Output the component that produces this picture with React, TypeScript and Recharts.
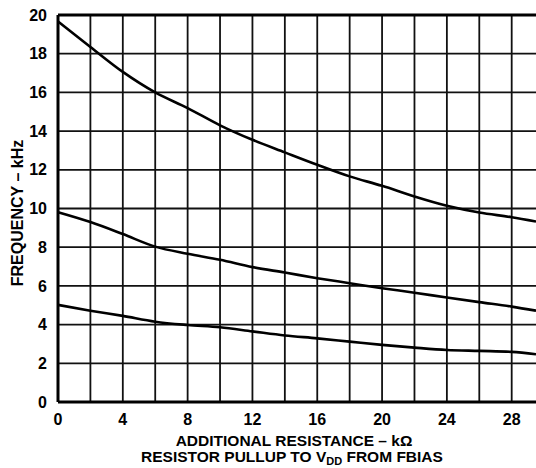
import React from 'react';
import { LineChart, Line, XAxis, YAxis, ReferenceLine } from 'recharts';

const resistance = [0, 2, 4, 6, 8, 10, 12, 14, 16, 18, 20, 22, 24, 26, 28, 29.5];
const upperFreq = [19.67, 18.35, 17.06, 16.0, 15.19, 14.3, 13.55, 12.9, 12.26, 11.66, 11.17, 10.62, 10.14, 9.79, 9.55, 9.33];
const middleFreq = [9.81, 9.3, 8.68, 8.03, 7.66, 7.35, 6.97, 6.69, 6.4, 6.14, 5.88, 5.65, 5.4, 5.16, 4.93, 4.72];
const lowerFreq = [5.02, 4.72, 4.45, 4.15, 3.98, 3.86, 3.65, 3.44, 3.29, 3.12, 2.95, 2.81, 2.69, 2.64, 2.59, 2.47];

const xTicks = [0, 4, 8, 12, 16, 20, 24, 28];
const yTicks = [0, 2, 4, 6, 8, 10, 12, 14, 16, 18, 20];
const xGrid = [2, 4, 6, 8, 10, 12, 14, 16, 18, 20, 22, 24, 26, 28];
const yGrid = [2, 4, 6, 8, 10, 12, 14, 16, 18];

const data = resistance.map((r, i) => ({
  r,
  upper: upperFreq[i],
  middle: middleFreq[i],
  lower: lowerFreq[i],
}));

const FONT = '"Liberation Sans", Arial, Helvetica, sans-serif';
const tickStyle = { fill: '#000', fontSize: 16, fontWeight: 700, fontFamily: FONT };

const XTitle = () => (
  <g fontFamily={FONT} fontWeight={700} fontSize={15.5} fill="#000" textAnchor="middle">
    <text x={294} y={446}>ADDITIONAL RESISTANCE – kΩ</text>
    <text x={292} y={462}>
      RESISTOR PULLUP TO V
      <tspan fontSize={11} dy={3}>DD</tspan>
      <tspan dy={-3}> FROM FBIAS</tspan>
    </text>
  </g>
);

const YTitle = () => (
  <text
    x={23}
    y={213}
    transform="rotate(-90 23 213)"
    textAnchor="middle"
    fontFamily={FONT}
    fontWeight={700}
    fontSize={16}
    fill="#000"
  >
    FREQUENCY – kHz
  </text>
);

export default function App() {
  return (
    <div style={{ position: 'absolute', left: 0, top: 0, width: 536, height: 468, overflow: 'hidden', background: '#fff' }}>
      <LineChart width={536} height={468} data={data} margin={{ top: 15, right: 0, bottom: 0, left: 0 }}>
        {xGrid.map((v) => (
          <ReferenceLine key={'x' + v} x={v} stroke="#111" strokeWidth={1.8} />
        ))}
        {yGrid.map((v) => (
          <ReferenceLine key={'y' + v} y={v} stroke="#111" strokeWidth={1.8} />
        ))}
        <ReferenceLine y={20} stroke="#000" strokeWidth={3} />
        <XAxis
          dataKey="r"
          type="number"
          domain={[0, 29.5]}
          ticks={xTicks}
          height={66}
          tickLine={false}
          tickSize={0}
          tickMargin={12}
          axisLine={{ stroke: '#000', strokeWidth: 3 }}
          tick={tickStyle}
          label={<XTitle />}
        />
        <YAxis
          type="number"
          domain={[0, 20]}
          ticks={yTicks}
          width={58}
          tickLine={false}
          tickSize={0}
          tickMargin={11}
          axisLine={{ stroke: '#000', strokeWidth: 3 }}
          tick={tickStyle}
          label={<YTitle />}
        />
        <Line type="monotone" dataKey="upper" stroke="#000" strokeWidth={2.6} dot={false} isAnimationActive={false} />
        <Line type="monotone" dataKey="middle" stroke="#000" strokeWidth={2.6} dot={false} isAnimationActive={false} />
        <Line type="monotone" dataKey="lower" stroke="#000" strokeWidth={2.6} dot={false} isAnimationActive={false} />
      </LineChart>
    </div>
  );
}
